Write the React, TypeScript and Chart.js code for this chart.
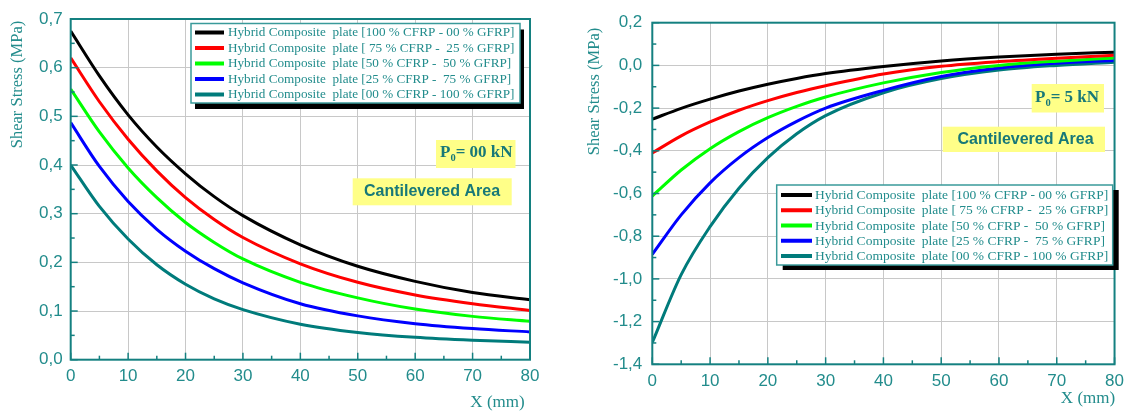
import React, { useEffect, useRef } from 'react';
import { Chart, registerables } from 'chart.js';

Chart.register(...registerables);

// Distance along the plate, X (mm)
const xMm = [0, 5, 10, 15, 20, 25, 30, 40, 50, 60, 70, 80];

const plateLabels = [
  'Hybrid Composite  plate [100 % CFRP - 00 % GFRP]',
  'Hybrid Composite  plate [ 75 % CFRP -  25 % GFRP]',
  'Hybrid Composite  plate [50 % CFRP -  50 % GFRP]',
  'Hybrid Composite  plate [25 % CFRP -  75 % GFRP]',
  'Hybrid Composite  plate [00 % CFRP - 100 % GFRP]',
];
const plateColors = ['#000000', '#ff0000', '#00ff00', '#0000ff', '#007b7b'];

// Shear stress (MPa) with P0 = 00 kN
const noLoadCfrp100 = [0.675, 0.583, 0.503, 0.437, 0.382, 0.335, 0.296, 0.236, 0.192, 0.161, 0.138, 0.123];
const noLoadCfrp75 = [0.62, 0.53, 0.453, 0.388, 0.333, 0.288, 0.251, 0.197, 0.159, 0.133, 0.115, 0.101];
const noLoadCfrp50 = [0.556, 0.468, 0.394, 0.333, 0.282, 0.241, 0.207, 0.159, 0.127, 0.104, 0.089, 0.079];
const noLoadCfrp25 = [0.487, 0.397, 0.325, 0.268, 0.223, 0.187, 0.158, 0.115, 0.09, 0.074, 0.064, 0.057];
const noLoadCfrp0 = [0.4, 0.315, 0.248, 0.195, 0.155, 0.125, 0.103, 0.073, 0.056, 0.046, 0.04, 0.036];

// Shear stress (MPa) with P0 = 5 kN
const loadedCfrp100 = [-0.252, -0.201, -0.158, -0.12, -0.088, -0.061, -0.038, -0.005, 0.021, 0.039, 0.052, 0.062];
const loadedCfrp75 = [-0.41, -0.33, -0.265, -0.21, -0.165, -0.127, -0.095, -0.04, -0.004, 0.018, 0.034, 0.047];
const loadedCfrp50 = [-0.612, -0.49, -0.39, -0.31, -0.245, -0.192, -0.148, -0.082, -0.033, 0.0, 0.02, 0.035];
const loadedCfrp25 = [-0.885, -0.7, -0.55, -0.432, -0.338, -0.262, -0.2, -0.117, -0.052, -0.012, 0.01, 0.023];
const loadedCfrp0 = [-1.298, -0.98, -0.755, -0.575, -0.432, -0.32, -0.235, -0.128, -0.062, -0.022, 0.0, 0.015];

const noLoadSeries = [noLoadCfrp100, noLoadCfrp75, noLoadCfrp50, noLoadCfrp25, noLoadCfrp0];
const loadedSeries = [loadedCfrp100, loadedCfrp75, loadedCfrp50, loadedCfrp25, loadedCfrp0];

// Axis ranges and tick steps
const xRange = [0, 80];
const xStep = 10;
const noLoadYRange = [0, 0.7];
const noLoadYStep = 0.1;
const loadedYRange = [-1.4, 0.2];
const loadedYStep = 0.2;

const yAxisTitle = 'Shear Stress (MPa)';
const xAxisTitle = 'X (mm)';
const areaText = 'Cantilevered Area';

const SANS = '"Liberation Sans", Arial, sans-serif';
const SERIF = '"Liberation Serif", "Times New Roman", serif';
const TEAL_AXIS = '#148080';
const TEAL_TEXT = '#228c8c';
const TEAL_DARK = '#177878';
const TAG_YELLOW = '#ffff88';

type Panel = {
  left: number;
  width: number;
  yAxisWidth: number;
  padRight: number;
  padTop: number;
  xAxisHeight: number;
  yLabelPad: number;
  xLabelPad: number;
  yRange: number[];
  yStep: number;
  series: number[][];
  load: string;
  yTitle: { x: number; y: number };
  xTitle: { x: number; y: number };
  legend: {
    x: number; y: number; w: number; h: number; sx: number; sy: number;
    lineX1: number; lineX2: number; textX: number; rowY: number; rowGap: number; fontSize: number;
  };
  loadTag: { x: number; y: number; w: number; h: number; textX: number; baseline: number };
  areaTag: { x: number; y: number; w: number; h: number; cx: number; cy: number };
};

const panels: Panel[] = [
  {
    left: 0,
    width: 565,
    yAxisWidth: 70.7,
    padRight: 35,
    padTop: 19,
    xAxisHeight: 52.3,
    yLabelPad: 8,
    xLabelPad: 6,
    yRange: noLoadYRange,
    yStep: noLoadYStep,
    series: noLoadSeries,
    load: '= 00 kN',
    yTitle: { x: 18, y: 84.5 },
    xTitle: { x: 497.5, y: 403 },
    legend: { x: 191, y: 23.5, w: 329, h: 79.5, sx: 4, sy: 6, lineX1: 195, lineX2: 224, textX: 228, rowY: 32.5, rowGap: 15.5, fontSize: 13.2 },
    loadTag: { x: 436, y: 140, w: 79.5, h: 28, textX: 440, baseline: 157 },
    areaTag: { x: 352.7, y: 178.3, w: 159, h: 27, cx: 432, cy: 192 },
  },
  {
    left: 565,
    width: 566,
    yAxisWidth: 87.3,
    padRight: 12,
    padTop: 22.7,
    xAxisHeight: 47.7,
    yLabelPad: 10,
    xLabelPad: 7,
    yRange: loadedYRange,
    yStep: loadedYStep,
    series: loadedSeries,
    load: '= 5 kN',
    yTitle: { x: 29.5, y: 91.5 },
    xTitle: { x: 523, y: 399 },
    legend: { x: 211.7, y: 185, w: 336, h: 80, sx: 6, sy: 5, lineX1: 216, lineX2: 247, textX: 250, rowY: 195, rowGap: 15.25, fontSize: 13.5 },
    loadTag: { x: 466.7, y: 84, w: 72.3, h: 28.5, textX: 470, baseline: 102 },
    areaTag: { x: 377.7, y: 126.7, w: 162.3, h: 25.3, cx: 460.5, cy: 140 },
  },
];

const fmtComma = (v: number) => {
  const n = Math.abs(v) < 1e-9 ? 0 : v;
  return n.toFixed(1).replace('.', ',');
};

// Frame, inward tick marks, titles, legend box and the yellow tags
const decorations = {
  id: 'plateDecorations',
  afterDraw(chart: any, _args: any, opts: any) {
    const p: Panel = opts.panel;
    const { ctx, chartArea: a } = chart;
    const xs = chart.scales.x;
    const ys = chart.scales.y;
    ctx.save();

    // inward tick marks (major + half-step minor)
    ctx.strokeStyle = TEAL_AXIS;
    ctx.lineWidth = 1.5;
    const yMinor = p.yStep / 2;
    const ny = Math.round((p.yRange[1] - p.yRange[0]) / yMinor);
    for (let i = 0; i <= ny; i++) {
      const py = ys.getPixelForValue(p.yRange[0] + i * yMinor);
      const len = i % 2 === 0 ? 7 : 4;
      ctx.beginPath();
      ctx.moveTo(a.left, py);
      ctx.lineTo(a.left + len, py);
      ctx.stroke();
    }
    const xMinor = xStep / 2;
    const nx = Math.round((xRange[1] - xRange[0]) / xMinor);
    for (let i = 0; i <= nx; i++) {
      const px = xs.getPixelForValue(xRange[0] + i * xMinor);
      const len = i % 2 === 0 ? 7 : 4;
      ctx.beginPath();
      ctx.moveTo(px, a.bottom);
      ctx.lineTo(px, a.bottom - len);
      ctx.stroke();
    }

    // plot frame
    ctx.lineWidth = 2;
    ctx.strokeRect(a.left, a.top, a.right - a.left, a.bottom - a.top);

    // axis titles
    ctx.fillStyle = TEAL_TEXT;
    ctx.textAlign = 'center';
    ctx.textBaseline = 'middle';
    ctx.font = `16.5px ${SERIF}`;
    ctx.save();
    ctx.translate(p.yTitle.x, p.yTitle.y);
    ctx.rotate(-Math.PI / 2);
    ctx.fillText(yAxisTitle, 0, 0);
    ctx.restore();
    ctx.font = `17px ${SERIF}`;
    ctx.fillText(xAxisTitle, p.xTitle.x, p.xTitle.y);

    // legend with a solid drop shadow
    const L = p.legend;
    ctx.fillStyle = '#000000';
    ctx.fillRect(L.x + L.sx, L.y + L.sy, L.w, L.h);
    ctx.fillStyle = '#ffffff';
    ctx.fillRect(L.x, L.y, L.w, L.h);
    ctx.strokeStyle = '#3a9a9a';
    ctx.lineWidth = 1.5;
    ctx.strokeRect(L.x, L.y, L.w, L.h);
    ctx.textAlign = 'left';
    ctx.textBaseline = 'middle';
    ctx.font = `${L.fontSize}px ${SERIF}`;
    chart.data.datasets.forEach((ds: any, i: number) => {
      const ry = L.rowY + i * L.rowGap;
      ctx.strokeStyle = ds.borderColor;
      ctx.lineWidth = 4;
      ctx.beginPath();
      ctx.moveTo(L.lineX1, ry);
      ctx.lineTo(L.lineX2, ry);
      ctx.stroke();
      ctx.fillStyle = TEAL_TEXT;
      ctx.fillText(ds.label, L.textX, ry + 0.5);
    });

    // load tag: P0 = ...
    const T = p.loadTag;
    ctx.fillStyle = TAG_YELLOW;
    ctx.fillRect(T.x, T.y, T.w, T.h);
    ctx.fillStyle = TEAL_DARK;
    ctx.textBaseline = 'alphabetic';
    ctx.font = `bold 17px ${SERIF}`;
    ctx.fillText('P', T.textX, T.baseline);
    let tx = T.textX + ctx.measureText('P').width;
    ctx.font = `bold 10.5px ${SERIF}`;
    ctx.fillText('0', tx, T.baseline + 4);
    tx += ctx.measureText('0').width;
    ctx.font = `bold 17px ${SERIF}`;
    ctx.fillText(p.load, tx, T.baseline);

    // area tag
    const A = p.areaTag;
    ctx.fillStyle = TAG_YELLOW;
    ctx.fillRect(A.x, A.y, A.w, A.h);
    ctx.fillStyle = TEAL_DARK;
    ctx.textAlign = 'center';
    ctx.textBaseline = 'middle';
    ctx.font = `bold 16px ${SANS}`;
    ctx.fillText(areaText, A.cx, A.cy);

    ctx.restore();
  },
};

function PlatePanel({ panel }: { panel: Panel }) {
  const ref = useRef<HTMLCanvasElement | null>(null);

  useEffect(() => {
    if (!ref.current) return;
    const datasets = panel.series.map((vals, i) => ({
      label: plateLabels[i],
      data: xMm.map((x, j) => ({ x, y: vals[j] })),
      borderColor: plateColors[i],
      backgroundColor: plateColors[i],
      borderWidth: 3,
      pointRadius: 0,
      cubicInterpolationMode: 'monotone' as const,
      fill: false,
    }));
    const tickFont = { family: SANS, size: 17 };
    const chart = new Chart(ref.current, {
      type: 'line',
      data: { datasets },
      plugins: [decorations],
      options: {
        animation: false,
        responsive: false,
        devicePixelRatio: 1,
        layout: { padding: { left: 0, right: panel.padRight, top: panel.padTop, bottom: 0 } },
        plugins: {
          legend: { display: false },
          tooltip: { enabled: false },
          plateDecorations: { panel },
        } as any,
        scales: {
          x: {
            type: 'linear',
            min: xRange[0],
            max: xRange[1],
            ticks: {
              stepSize: xStep,
              autoSkip: false,
              maxRotation: 0,
              color: TEAL_TEXT,
              font: tickFont,
              padding: panel.xLabelPad,
            },
            grid: { color: '#c8c8c8', lineWidth: 1, drawTicks: false },
            border: { display: false },
            afterFit: (s: any) => {
              s.height = panel.xAxisHeight;
            },
          },
          y: {
            type: 'linear',
            min: panel.yRange[0],
            max: panel.yRange[1],
            ticks: {
              stepSize: panel.yStep,
              autoSkip: false,
              color: TEAL_TEXT,
              font: tickFont,
              padding: panel.yLabelPad,
              callback: (v: any) => fmtComma(Number(v)),
            },
            grid: { color: '#c8c8c8', lineWidth: 1, drawTicks: false },
            border: { display: false },
            afterFit: (s: any) => {
              s.width = panel.yAxisWidth;
            },
          },
        },
      },
    });
    return () => chart.destroy();
  }, [panel]);

  return (
    <canvas
      ref={ref}
      width={panel.width}
      height={412}
      style={{ position: 'absolute', left: panel.left, top: 0, width: panel.width, height: 412 }}
    />
  );
}

export default function App() {
  return (
    <div style={{ position: 'absolute', left: 0, top: 0, width: 1131, height: 412, background: '#ffffff' }}>
      {panels.map((p, i) => (
        <PlatePanel key={i} panel={p} />
      ))}
    </div>
  );
}
